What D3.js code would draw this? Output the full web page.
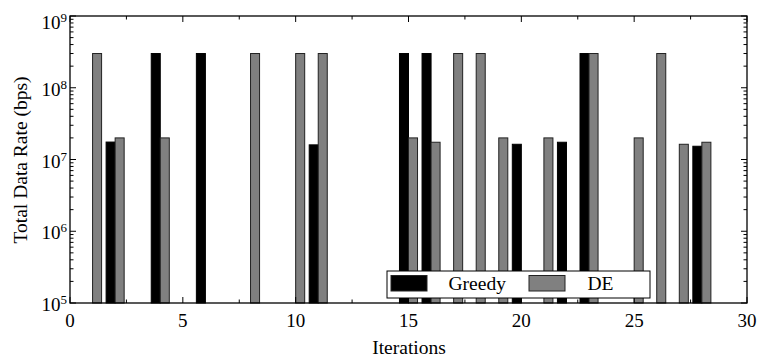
<!DOCTYPE html>
<html>
<head>
<meta charset="utf-8">
<script src="https://cdn.jsdelivr.net/npm/d3@7"></script>
<style>
  body { margin: 0; background: #fff; }
  svg { display: block; font-family: "Liberation Serif", "Times New Roman", serif; }
</style>
</head>
<body>
<svg id="chart" width="757" height="360"></svg>
<script>
// Iteration index (1..28) and total data rate per algorithm; null = no bar drawn
const iterations = [1, 2, 3, 4, 5, 6, 7, 8, 9, 10, 11, 12, 13, 14,
                    15, 16, 17, 18, 19, 20, 21, 22, 23, 24, 25, 26, 27, 28];
const greedyRate = [null, 1.75e7, null, 3e8, null, 3e8, null, null, null, null, 1.6e7, null, null, null,
                    3e8, 3e8, null, null, null, 1.63e7, null, 1.74e7, 3e8, null, null, null, null, 1.53e7];
const deRate     = [3e8, 2e7, null, 2e7, null, null, null, 3e8, null, 3e8, 3e8, null, null, null,
                    2e7, 1.74e7, 3e8, 3e8, 2e7, null, 2e7, null, 3e8, null, 2e7, 3e8, 1.63e7, 1.74e7];
const seriesNames = ["Greedy", "DE"];
const seriesColors = ["#000000", "#808080"];
const xTicks = [0, 5, 10, 15, 20, 25, 30];
const yExponents = [5, 6, 7, 8, 9];

(function draw() {
  const svg = d3.select("#chart");
  const plotL = 70, plotR = 747, plotT = 16, plotB = 303;

  const x = d3.scaleLinear().domain([0, 30]).range([plotL, plotR]);
  const y = d3.scaleLog().domain([1e5, 1e9]).range([plotB, plotT]);
  const barW = 0.4; // bar width in iteration units

  // Bars: Greedy sits left of the iteration value, DE right of it
  const series = [greedyRate, deRate];
  series.forEach((vals, s) => {
    const data = iterations.map((it, i) => ({ it, v: vals[i] })).filter(d => d.v != null);
    svg.append("g").selectAll("rect").data(data).join("rect")
      .attr("x", d => s === 0 ? x(d.it - barW) : x(d.it))
      .attr("width", x(barW) - x(0))
      .attr("y", d => y(d.v))
      .attr("height", d => y(1e5) - y(d.v))
      .attr("fill", seriesColors[s])
      .attr("stroke", s === 0 ? "#000" : "#222")
      .attr("stroke-width", 1);
  });

  // Frame
  svg.append("rect")
    .attr("x", plotL).attr("y", plotT)
    .attr("width", plotR - plotL).attr("height", plotB - plotT)
    .attr("fill", "none").attr("stroke", "#000").attr("stroke-width", 1.3);

  // Inward ticks on all four sides
  const tickG = svg.append("g").attr("stroke", "#000").attr("stroke-width", 1);
  d3.range(0, 30.01, 2.5).forEach(v => {
    const len = v % 5 === 0 ? 6 : 3.5;
    tickG.append("line").attr("x1", x(v)).attr("x2", x(v)).attr("y1", plotB).attr("y2", plotB - len);
    tickG.append("line").attr("x1", x(v)).attr("x2", x(v)).attr("y1", plotT).attr("y2", plotT + len);
  });
  yExponents.forEach(e => {
    const mults = e === 9 ? [1] : d3.range(1, 10);
    mults.forEach(m => {
      const v = m * Math.pow(10, e);
      const len = m === 1 ? 6 : 3.5;
      tickG.append("line").attr("x1", plotL).attr("x2", plotL + len).attr("y1", y(v)).attr("y2", y(v));
      tickG.append("line").attr("x1", plotR).attr("x2", plotR - len).attr("y1", y(v)).attr("y2", y(v));
    });
  });

  // X tick labels
  svg.append("g").selectAll("text").data(xTicks).join("text")
    .attr("x", d => x(d)).attr("y", 326.5)
    .attr("text-anchor", "middle").attr("font-size", 19)
    .text(d => d);

  // Y tick labels as powers of ten
  yExponents.forEach(e => {
    const t = svg.append("text")
      .attr("x", 67).attr("y", y(Math.pow(10, e)) + (e === 9 ? 13 : 8))
      .attr("text-anchor", "end").attr("font-size", 19);
    t.append("tspan").text("10");
    t.append("tspan").attr("dy", -7).attr("font-size", 13).text(e);
  });

  // Axis titles
  svg.append("text")
    .attr("x", (plotL + plotR) / 2 + 0.5).attr("y", 354)
    .attr("text-anchor", "middle").attr("font-size", 19.5)
    .text("Iterations");
  svg.append("text")
    .attr("transform", "translate(27,160) rotate(-90)")
    .attr("text-anchor", "middle").attr("font-size", 19.5)
    .text("Total Data Rate (bps)");

  // Legend
  const lg = svg.append("g");
  lg.append("rect").attr("x", 387).attr("y", 271).attr("width", 263).attr("height", 27)
    .attr("fill", "#fff").attr("stroke", "#000").attr("stroke-width", 1);
  const swatchX = [391, 529], labelX = [448.5, 587.5];
  seriesNames.forEach((n, i) => {
    lg.append("rect").attr("x", swatchX[i]).attr("y", 275.5).attr("width", 36).attr("height", 15.5)
      .attr("fill", seriesColors[i]).attr("stroke", "#222").attr("stroke-width", 1);
    lg.append("text").attr("x", labelX[i]).attr("y", 290).attr("font-size", 19.5).text(n);
  });
})();
</script>
</body>
</html>
